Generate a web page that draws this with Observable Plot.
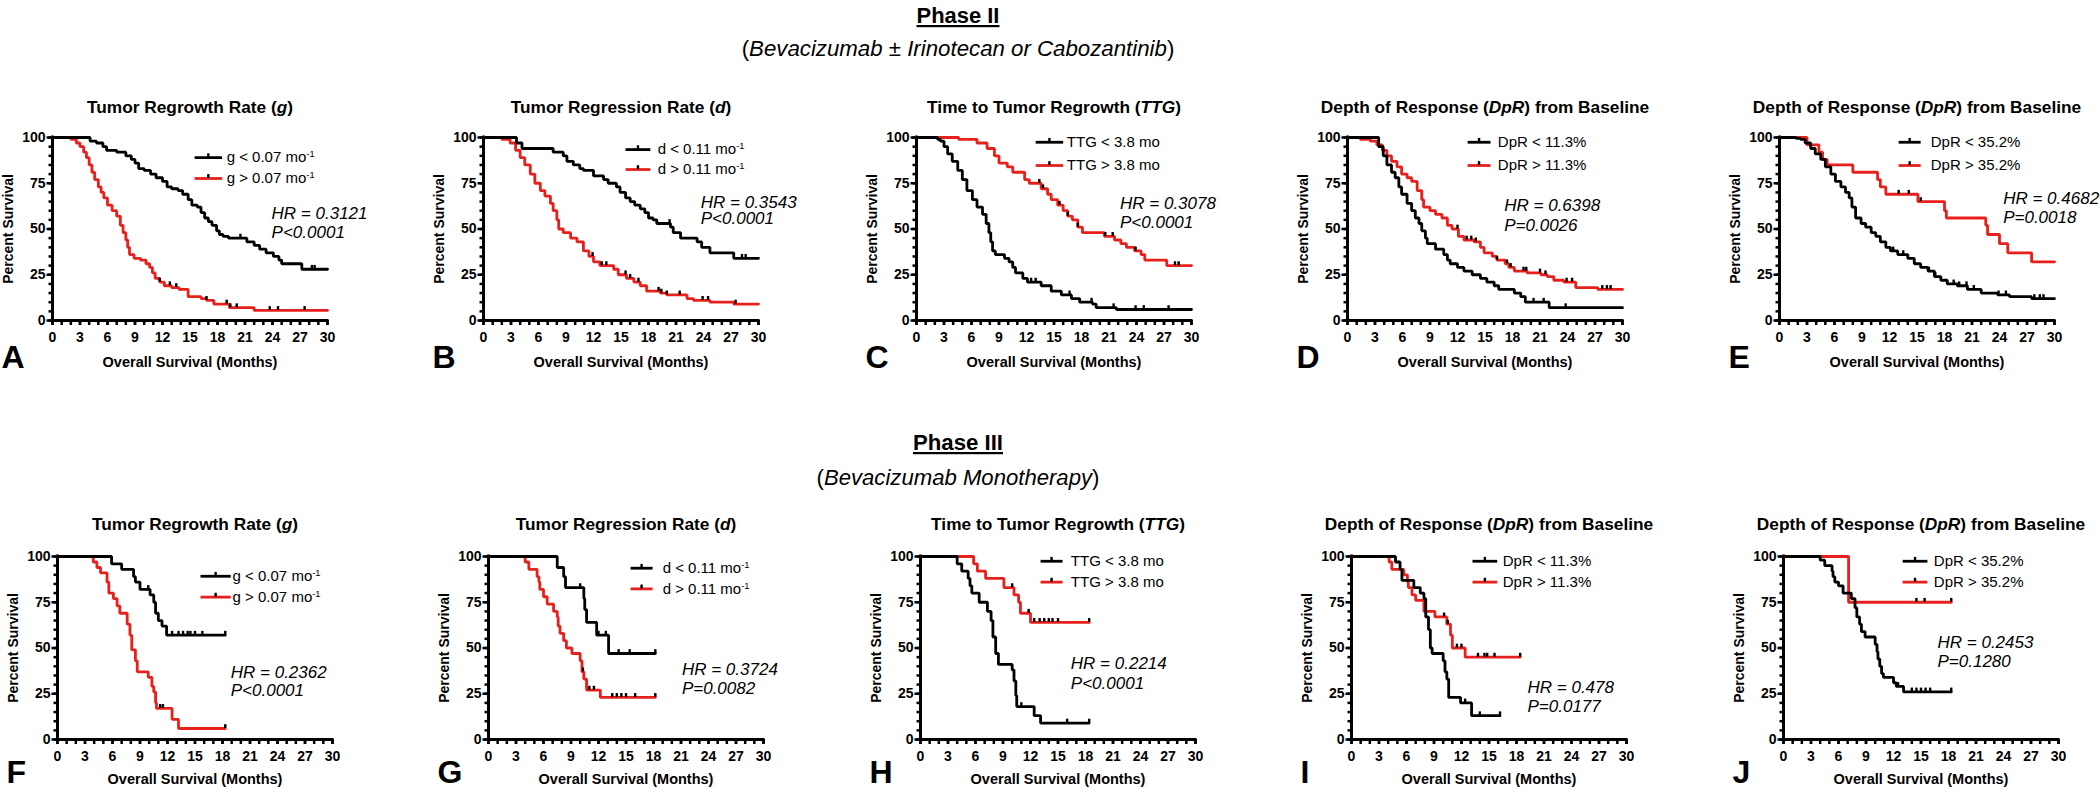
<!DOCTYPE html>
<html><head><meta charset="utf-8">
<script src="https://cdn.jsdelivr.net/npm/d3@7"></script>
<script src="https://cdn.jsdelivr.net/npm/@observablehq/plot@0.6"></script>
<style>
html,body{margin:0;padding:0;background:#fff;}
body{width:2100px;height:788px;position:relative;overflow:hidden;font-family:"Liberation Sans",Arial,sans-serif;}
.panel{position:absolute;}
</style></head><body>
<script>
// ---------------- DATA (Kaplan–Meier step points [months, % survival]) ----------------
const A_black=[[0,100],[4.1,98],[4.8,97],[5.5,95],[5.9,93],[7.0,92],[8.0,90],[8.6,88],[9.0,86],[9.4,83],[10.0,82],[10.7,80],[11.3,78],[12.0,76],[12.5,73],[13.0,72],[13.7,71],[14.2,69],[14.8,66],[15.2,63],[15.8,62],[16.2,59],[16.6,56],[17.0,54],[17.4,52],[17.9,49],[18.2,47],[18.6,46],[19.2,45],[21.2,43],[22.0,41],[22.6,39],[23.3,37],[24.1,35],[24.7,33],[25.0,31],[27.2,28],[30,28]];
const A_blackCens=[20.5,28.3,28.6];
const A_red=[[0,100],[2.0,99],[2.6,97],[3.0,95],[3.4,92],[3.7,89],[4.0,85],[4.3,81],[4.6,77],[5.0,73],[5.3,70],[5.6,67],[6.0,63],[6.5,60],[7.0,57],[7.4,52],[7.7,48],[8.0,44],[8.2,40],[8.4,36],[8.9,34],[9.6,33],[10.2,31],[10.6,29],[10.9,26],[11.2,23],[11.7,21],[12.2,19],[13.0,18],[13.8,17],[14.8,13],[16.2,12],[16.8,11],[17.6,9],[19.3,7],[22.0,5.5],[30,5.5]];
const A_redCens=[11.7,12.8,13.5,16.8,19.0,19.4,20.1,23.7,24.6,27.5];

const B_black=[[0,100],[3.6,97],[4.2,94],[7.6,92],[8.7,90],[9.1,87],[9.8,85],[10.5,83],[10.9,82],[12.0,79],[13.1,77],[13.6,75],[14.5,73],[14.9,70],[15.5,67],[16.0,65],[16.5,63],[17.1,61],[17.6,59],[18.0,56],[18.5,55],[18.9,53],[20.4,51],[20.7,48],[21.5,45],[23.3,43],[23.8,40],[24.7,37],[27.3,34],[30,34]];
const B_blackCens=[20.3,28.2,28.6];
const B_red=[[0,100],[2.0,99],[2.9,97],[3.5,93],[4.0,89],[4.5,85],[5.1,80],[5.6,75],[6.2,71],[6.7,68],[7.3,64],[7.6,60],[8.0,55],[8.2,50],[8.7,48],[9.5,45],[10.2,43],[10.9,38],[11.5,35],[12.0,32],[12.7,30],[14.2,28],[14.7,25],[15.6,23],[16.4,21],[17.1,19],[17.8,16],[19.3,15],[20.0,14],[22.2,12],[22.9,11],[24.7,10],[27.3,9],[30,9]];
const B_redCens=[11.9,12.9,13.4,15.5,16.0,16.9,19.1,19.4,20.0,21.4,23.9,24.5,27.5];

const C_black=[[0,100],[2.3,99],[2.6,98],[3.0,95],[3.4,91],[3.9,87],[4.5,82],[5.0,77],[5.5,71],[6.1,66],[6.6,62],[7.2,58],[7.6,53],[7.9,48],[8.1,43],[8.3,38],[8.6,36],[9.6,34],[10.1,32],[10.5,29],[10.8,26],[11.6,23],[12.1,21],[13.6,19],[14.7,16],[15.8,14],[16.9,12],[17.8,10],[19.2,9],[19.6,7],[21.8,6],[30,6]];
const C_blackCens=[12.5,13.0,16.7,19.1,21.5,23.9,24.8,27.5];
const C_red=[[0,100],[4.6,99],[6.6,97],[7.7,94],[8.5,90],[9.0,86],[9.9,84],[10.5,81],[11.8,77],[12.3,75],[13.6,72],[14.3,69],[14.7,66],[15.4,63],[16.0,60],[16.5,57],[17.0,55],[17.6,51],[18.1,48],[20.5,46],[21.6,44],[22.3,42],[22.9,40],[23.8,38],[24.5,36],[24.9,33],[27.3,30],[30,30]];
const C_redCens=[13.4,13.8,15.6,16.5,17.6,20.6,21.4,23.9,28.2,28.6];

const D_black=[[0,100],[3.4,95],[3.9,90],[4.3,85],[4.8,81],[5.2,78],[5.6,73],[5.9,69],[6.5,64],[7.0,60],[7.4,56],[7.8,53],[8.1,49],[8.5,45],[8.7,42],[9.6,39],[10.5,36],[10.9,33],[11.2,31],[12.0,29],[12.7,27],[13.6,25],[14.5,23],[15.2,21],[16.0,19],[16.5,17],[18.2,15],[18.9,13],[19.4,10],[22.0,7],[30,7]];
const D_blackCens=[20.3,21.4,23.8];
const D_red=[[0,100],[1.4,99],[2.5,98],[3.2,96],[3.8,93],[4.3,90],[4.8,87],[5.4,84],[5.9,80],[6.5,78],[7.0,76],[7.6,71],[8.1,66],[8.3,62],[9.0,60],[9.6,58],[10.3,56],[10.9,52],[11.4,50],[12.1,46],[12.7,44],[13.8,43],[14.5,40],[14.9,37],[15.8,35],[16.3,33],[17.2,31],[17.6,29],[18.2,27],[19.6,26],[21.1,25],[21.8,24],[22.5,22],[23.6,21],[24.9,18],[27.3,17],[30,17]];
const D_redCens=[12.0,13.0,13.5,14.0,16.3,17.4,17.8,19.2,19.5,21.0,21.6,23.9,24.5,27.8,28.3,28.7];

const E_black=[[0,100],[1.8,99.5],[2.3,99],[2.8,97],[3.4,94],[3.9,91],[4.5,88],[5.0,84],[5.6,80],[6.1,76],[6.7,73],[7.2,70],[7.6,67],[7.9,62],[8.3,56],[8.9,53],[9.4,51],[10.0,48],[10.5,46],[11.0,43],[11.6,40],[12.1,38],[12.9,36],[14.0,34],[14.7,31],[15.4,29],[16.2,27],[16.9,24],[17.6,22],[18.3,20],[19.4,19],[20.5,17],[22.0,15],[23.8,14],[25.1,13],[27.5,12],[30,12]];
const E_blackCens=[12.4,13.5,14.0,16.3,17.0,19.0,19.6,20.4,21.2,23.9,24.7,27.8,28.4,28.8];
const E_red=[[0,100],[3.0,96],[4.3,92],[4.7,88],[5.2,85],[8.0,81],[10.7,77],[11.0,73],[11.6,69],[15.1,65],[18.0,60],[18.2,56],[22.5,52],[22.7,47],[24.0,42],[24.9,37],[27.5,32],[30,32]];
const E_redCens=[13.0,14.1,15.4];

const F_black=[[0,100],[5.9,96],[7.0,93],[8.3,89],[8.5,86],[9.0,82],[10.1,79],[10.5,75],[10.7,69],[11.0,65],[11.4,62],[11.9,57],[18.3,57]];
const F_blackCens=[9.9,12.5,13.2,13.7,14.2,14.5,15.0,15.8,18.3];
const F_red=[[0,100],[3.9,97],[4.3,94],[4.7,91],[5.4,86],[5.6,80],[6.1,77],[6.5,73],[6.8,69],[7.6,63],[7.9,57],[8.1,49],[8.5,43],[8.7,37],[9.9,34],[10.3,29],[10.5,26],[10.7,20],[10.8,17],[12.5,11],[13.2,6],[18.3,6]];
const F_redCens=[11.2,11.5,18.3];

const G_black=[[0,100],[7.5,94],[8.2,89],[8.4,83],[10.4,77],[10.5,71],[10.7,64],[11.8,57],[13.1,47],[18.2,47]];
const G_blackCens=[10.0,12.0,12.8,14.2,15.4,18.2];
const G_red=[[0,100],[4.0,97],[4.4,93],[5.3,89],[5.5,86],[5.6,82],[6.0,78],[6.4,74],[7.1,70],[7.5,67],[7.6,62],[7.8,58],[8.2,54],[8.5,50],[9.1,47],[10.0,43],[10.2,37],[10.4,33],[10.7,27],[12.2,23],[18.2,23]];
const G_redCens=[10.3,11.0,11.5,13.5,14.0,14.5,15.0,16.0,18.2];

const H_black=[[0,100],[4.0,96],[4.5,92],[5.2,88],[5.4,84],[5.6,80],[6.4,75],[7.3,70],[7.7,65],[7.9,56],[8.2,47],[8.5,41],[10.0,38],[10.2,32],[10.4,24],[10.5,18],[12.4,13],[13.1,9],[18.4,9]];
const H_blackCens=[11.0,16.0,18.4];
const H_red=[[0,100],[5.8,96],[6.2,92],[7.1,88],[9.1,83],[10.2,79],[10.7,75],[10.9,69],[12.0,64],[18.4,64]];
const H_redCens=[10.0,11.8,12.4,13.0,13.5,14.0,14.4,15.0,18.4];

const I_black=[[0,100],[4.8,97],[5.3,93],[5.5,87],[6.8,83],[7.5,80],[7.9,77],[8.1,67],[8.4,60],[8.6,50],[8.8,47],[10.0,43],[10.2,37],[10.4,33],[10.6,23],[11.9,20],[13.1,13],[16.2,13]];
const I_blackCens=[12.4,14.0,16.2];
const I_red=[[0,100],[4.1,97],[4.4,93],[5.7,90],[6.1,86],[6.2,83],[6.6,79],[7.0,76],[7.9,70],[9.1,67],[10.4,63],[10.8,57],[11.0,50],[12.4,45],[18.4,45]];
const I_redCens=[10.1,10.5,11.5,12.0,13.8,14.5,14.8,15.6,18.4];

const J_black=[[0,100],[4.0,98],[4.5,95],[5.3,92],[5.4,89],[5.6,86],[6.0,84],[6.5,80],[7.4,77],[7.8,72],[8.0,67],[8.3,63],[8.5,59],[8.9,56],[10.0,52],[10.2,48],[10.3,44],[10.5,40],[10.7,36],[10.9,34],[12.0,31],[12.3,29],[13.1,26],[18.3,26]];
const J_blackCens=[12.5,14.0,14.5,15.0,15.5,16.0,18.3];
const J_red=[[0,100],[7.1,75],[18.3,75]];
const J_redCens=[14.5,15.4,18.3];

// Labels
const headings=["Phase II","Phase III"];
const subheads=[["(","Bevacizumab ± Irinotecan or Cabozantinib",")"],["(","Bevacizumab Monotherapy",")"]];
const titles=["Tumor Regrowth Rate (_g_)","Tumor Regression Rate (_d_)","Time to Tumor Regrowth (_TTG_)","Depth of Response (_DpR_) from Baseline","Depth of Response (_DpR_) from Baseline"];
const legendLabels=[["g < 0.07 mo^-1^","g > 0.07 mo^-1^"],["d < 0.11 mo^-1^","d > 0.11 mo^-1^"],["TTG < 3.8 mo","TTG > 3.8 mo"],["DpR < 11.3%","DpR > 11.3%"],["DpR < 35.2%","DpR > 35.2%"]];
const hrLabels=[["HR = 0.3121","P<0.0001"],["HR = 0.3543","P<0.0001"],["HR = 0.3078","P<0.0001"],["HR = 0.6398","P=0.0026"],["HR = 0.4682","P=0.0018"],
                ["HR = 0.2362","P<0.0001"],["HR = 0.3724","P=0.0082"],["HR = 0.2214","P<0.0001"],["HR = 0.478","P=0.0177"],["HR = 0.2453","P=0.1280"]];
const letters=["A","B","C","D","E","F","G","H","I","J"];
const xTicksMajor=[0,3,6,9,12,15,18,21,24,27,30];
const yTicksMajor=[0,25,50,75,100];
const axisTitleX="Overall Survival (Months)";
const axisTitleY="Percent Survival";

const curves=[
  [A_black,A_blackCens,A_red,A_redCens],[B_black,B_blackCens,B_red,B_redCens],[C_black,C_blackCens,C_red,C_redCens],
  [D_black,D_blackCens,D_red,D_redCens],[E_black,E_blackCens,E_red,E_redCens],
  [F_black,F_blackCens,F_red,F_redCens],[G_black,G_blackCens,G_red,G_redCens],[H_black,H_blackCens,H_red,H_redCens],
  [I_black,I_blackCens,I_red,I_redCens],[J_black,J_blackCens,J_red,J_redCens]
];

// ---------------- LAYOUT ----------------
const RED="#e8201c";
const FW=275, FH=183, ML=60, MT=50, MR=130, MB=62;
const frameLeft=[[52,483,916,1347,1779],[57,488,920,1351,1783]];
const frameTop=[137,556];
const titleDy=[-30.5,-32], letterDy=[37,33], xLabDy=[41.5,40];
const legPos=[
 {x0:15.5,x1:18.5,xt:19.0,y:[89,77.6]},{x0:15.5,x1:18.2,xt:19.0,y:[93.4,82.5]},{x0:13.0,x1:16.0,xt:16.4,y:[97.4,84.7]},
 {x0:13.1,x1:15.6,xt:16.4,y:[97.4,84.7]},{x0:13.0,x1:15.4,xt:16.5,y:[97.4,84.7]},
 {x0:15.6,x1:18.9,xt:19.1,y:[89.2,77.8]},{x0:15.5,x1:17.9,xt:19.0,y:[93.6,82.3]},{x0:13.1,x1:15.5,xt:16.4,y:[97.4,86]},
 {x0:13.2,x1:15.9,xt:16.5,y:[97.4,86]},{x0:13.0,x1:15.7,xt:16.4,y:[97.4,86]}];
const hrPos=[
 {x:23.9,y:[58.3,48.3]},{x:23.7,y:[64.6,55.6]},{x:22.2,y:[64,53.7]},{x:17.1,y:[62.8,51.9]},{x:24.4,y:[66.5,56.4]},
 {x:18.9,y:[36.8,26.8]},{x:21.1,y:[38.1,27.7]},{x:16.4,y:[41.4,30.8]},{x:19.2,y:[28.6,18]},{x:16.8,y:[53.2,42.6]}];

const FONT='"Liberation Sans", Arial, sans-serif';
const NARROW='"Liberation Sans Narrow","Arial Narrow","Liberation Sans",Arial,sans-serif';

function stepAt(c,t){let s=c[0][1];for(const [ti,si] of c){if(ti<=t)s=si;else break;}return s;}
const rows=c=>c.map(([t,s])=>({t,s}));
const cens=(c,ts)=>ts.map(t=>({t,s:stepAt(c,t)}));

function richify(svg){
  svg.querySelectorAll("text").forEach(t=>{
    const s=t.textContent;
    if(!/[_^]/.test(s)) return;
    while(t.firstChild) t.removeChild(t.firstChild);
    s.split(/(_[^_]+_|\^[^^]+\^)/).filter(x=>x).forEach(seg=>{
      const ts=document.createElementNS("http://www.w3.org/2000/svg","tspan");
      if(seg.length>2&&seg[0]==="_"&&seg.endsWith("_")){ts.setAttribute("font-style","italic");ts.textContent=seg.slice(1,-1);}
      else if(seg.length>2&&seg[0]==="^"&&seg.endsWith("^")){ts.setAttribute("font-size","0.62em");ts.setAttribute("dy","-0.55em");ts.textContent=seg.slice(1,-1);}
      else ts.textContent=seg;
      t.appendChild(ts);
    });
  });
}

// ---------------- HEADERS ----------------
const hdr=d3.select("body").append("svg").attr("width",2100).attr("height",788)
  .style("position","absolute").style("left","0px").style("top","0px");
const hdrY=[[23,56],[450,485]], hdrLen=[[83,433],[90,283]];
headings.forEach((h,i)=>{
  const a=hdr.append("text").attr("x",958).attr("y",hdrY[i][0]).attr("text-anchor","middle")
    .attr("font-family",NARROW).attr("font-weight","bold").attr("font-size",26)
    .attr("text-decoration","underline").text(h);
  const la=a.node().getComputedTextLength(); if(la>0) a.attr("font-size",Math.min(30,26*hdrLen[i][0]/la));
  const t=hdr.append("text").attr("x",958).attr("y",hdrY[i][1]).attr("text-anchor","middle")
    .attr("font-family",NARROW).attr("font-size",27);
  subheads[i].forEach((seg,k)=>{t.append("tspan").attr("font-style",k===1?"italic":"normal").text(seg);});
  const lb=t.node().getComputedTextLength(); if(lb>0) t.attr("font-size",Math.min(30,27*hdrLen[i][1]/lb));
});

// ---------------- PANELS ----------------
for(let p=0;p<10;p++){
  const row=p<5?0:1, col=p%5;
  const [blk,blkC,red,redC]=curves[p];
  const L=legPos[p], H=hrPos[p];
  const leg=legendLabels[col];
  const legRows=[{x0:L.x0,x1:L.x1,xm:(L.x0+L.x1)/2,xt:L.xt,y:L.y[0],label:leg[0]},{x0:L.x0,x1:L.x1,xm:(L.x0+L.x1)/2,xt:L.xt,y:L.y[1],label:leg[1]}];
  const hrRows=[{x:H.x,y:H.y[0],label:hrLabels[p][0]},{x:H.x,y:H.y[1],label:hrLabels[p][1]}];
  const allC=[...cens(red,redC),...cens(blk,blkC)];
  const svg=Plot.plot({
    width:ML+FW+MR, height:MT+FH+MB, marginLeft:ML, marginRight:MR, marginTop:MT, marginBottom:MB,
    x:{domain:[0,30]}, y:{domain:[0,100]},
    style:{fontFamily:FONT,fontSize:"14px",background:"transparent",overflow:"visible",maxWidth:"none",color:"#000"},
    marks:[
      Plot.axisY(d3.range(0,101,5),{tickSize:3.5,strokeWidth:2.5,fill:"none",label:null}),
      Plot.axisY(yTicksMajor,{tickSize:5.5,tickPadding:1.5,strokeWidth:2.5,fontSize:14,fontWeight:"bold",label:null}),
      Plot.axisX(d3.range(0,31,1),{tickSize:5,strokeWidth:2.5,fill:"none",label:null}),
      Plot.axisX(xTicksMajor,{tickSize:5,tickPadding:7,strokeWidth:2.5,fontSize:14,fontWeight:"bold",label:null}),
      Plot.ruleX([0],{strokeWidth:3,strokeLinecap:"square"}),
      Plot.ruleY([0],{strokeWidth:3,strokeLinecap:"square"}),
      Plot.line(rows(red),{x:"t",y:"s",curve:"step-after",stroke:RED,strokeWidth:2.8,strokeLinejoin:"miter"}),
      Plot.line(rows(blk),{x:"t",y:"s",curve:"step-after",stroke:"#000",strokeWidth:2.8,strokeLinejoin:"miter"}),
      Plot.ruleX(allC,{x:"t",y1:"s",y2:d=>d.s+2.1,stroke:"#000",strokeWidth:2.4}),
      // legend
      Plot.link([legRows[0]],{x1:"x0",x2:"x1",y1:"y",y2:"y",stroke:"#000",strokeWidth:2.8}),
      Plot.link([legRows[1]],{x1:"x0",x2:"x1",y1:"y",y2:"y",stroke:RED,strokeWidth:2.8}),
      Plot.ruleX(legRows,{x:"xm",y1:"y",y2:d=>d.y+2.1,stroke:"#000",strokeWidth:2.4}),
      Plot.text(legRows,{x:"xt",y:"y",text:"label",textAnchor:"start",lineAnchor:"middle",fontSize:15}),
      // HR / P
      Plot.text(hrRows,{x:"x",y:"y",text:"label",textAnchor:"start",lineAnchor:"middle",fontSize:17,fontStyle:"italic"}),
      // titles & labels
      Plot.text([titles[col]],{frameAnchor:"top",dy:titleDy[row],textAnchor:"middle",lineAnchor:"middle",fontSize:17.3,fontWeight:"bold"}),
      Plot.text([axisTitleX],{frameAnchor:"bottom",dy:xLabDy[row],textAnchor:"middle",lineAnchor:"middle",fontSize:14.5,fontWeight:"bold"}),
      Plot.text([axisTitleY],{frameAnchor:"left",dx:-44,rotate:-90,textAnchor:"middle",lineAnchor:"middle",fontSize:14,fontWeight:"bold"}),
      Plot.text([letters[p]],{frameAnchor:"bottom-left",dx:-51,dy:letterDy[row],textAnchor:"start",lineAnchor:"middle",fontSize:32,fontWeight:"bold"})
    ]
  });
  richify(svg);
  const div=document.createElement("div");
  div.className="panel";
  div.style.left=(frameLeft[row][col]-ML)+"px";
  div.style.top=(frameTop[row]-MT)+"px";
  div.appendChild(svg);
  document.body.appendChild(div);
}
</script>
</body></html>
